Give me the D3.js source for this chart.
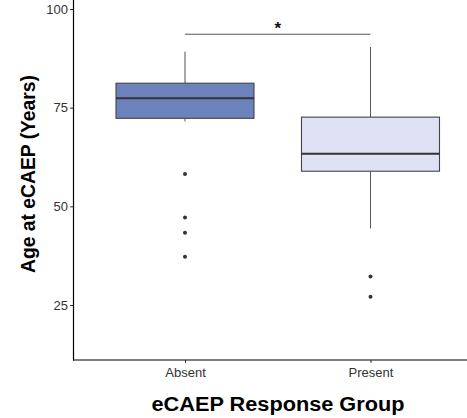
<!DOCTYPE html>
<html><head><meta charset="utf-8">
<script src="https://cdn.jsdelivr.net/npm/d3@7"></script>
<style>body{margin:0;background:#fff;}svg{display:block;}</style>
</head><body>
<svg id="c" width="467" height="418"></svg>
<script>
const groups = ["Absent", "Present"];
const q1 = [72.3, 58.9];
const medians = [77.4, 63.3];
const q3 = [81.2, 72.6];
const whiskerLow = [71.5, 44.4];
const whiskerHigh = [89.2, 90.4];
const outliersAbsent = [58.2, 47.2, 43.3, 37.2];
const outliersPresent = [32.2, 27.1];
const fills = ["#6b82bd", "#dfe2f5"];
const yTicks = [25, 50, 75, 100];
const sigLevel = 93.6;
const sigLabel = "*";

const svg = d3.select("#c");
const xc = d3.scalePoint().domain(groups).range([185, 370.5]);
const bw = 138;
const y = d3.scaleLinear().domain([25, 100]).range([305, 9]);

const outliers = [outliersAbsent, outliersPresent];

const yAxis = d3.axisLeft(y).tickValues(yTicks).tickSize(3.5).tickPadding(2);
const gy = svg.append("g").attr("transform", "translate(73.5,0)").call(yAxis);
gy.select(".domain").remove();
gy.selectAll(".tick line").attr("stroke", "#333");
gy.selectAll(".tick text").attr("fill", "#333").style("font-family", "Liberation Sans, Arial, sans-serif").style("font-size", "13px");

const xAxis = d3.axisBottom(xc).tickSize(3).tickPadding(5);
const gx = svg.append("g").attr("transform", "translate(0,360)").call(xAxis);
gx.select(".domain").remove();
gx.selectAll(".tick line").attr("stroke", "#333");
gx.selectAll(".tick text").attr("fill", "#333").style("font-family", "Liberation Sans, Arial, sans-serif").style("font-size", "13px");

svg.append("line").attr("x1", 73.5).attr("x2", 73.5).attr("y1", -5).attr("y2", 360.5).attr("stroke", "#000").attr("stroke-width", 1.2);
svg.append("line").attr("x1", 73).attr("x2", 480).attr("y1", 360).attr("y2", 360).attr("stroke", "#000").attr("stroke-width", 1.2);

groups.forEach((g, i) => {
  const cx = xc(g);
  svg.append("line").attr("x1", cx).attr("x2", cx).attr("y1", y(q3[i])).attr("y2", y(whiskerHigh[i])).attr("stroke", "#555").attr("stroke-width", 1);
  svg.append("line").attr("x1", cx).attr("x2", cx).attr("y1", y(q1[i])).attr("y2", y(whiskerLow[i])).attr("stroke", "#555").attr("stroke-width", 1);
  svg.append("rect").attr("x", cx - bw / 2).attr("y", y(q3[i])).attr("width", bw).attr("height", y(q1[i]) - y(q3[i]))
    .attr("fill", fills[i]).attr("stroke", "#444").attr("stroke-width", 1.1);
  svg.append("line").attr("x1", cx - bw / 2).attr("x2", cx + bw / 2).attr("y1", y(medians[i])).attr("y2", y(medians[i])).attr("stroke", "#333").attr("stroke-width", 2);
  svg.selectAll(null).data(outliers[i]).enter().append("circle")
    .attr("cx", cx).attr("cy", d => y(d)).attr("r", 2).attr("fill", "#333");
});

svg.append("line").attr("x1", xc("Absent")).attr("x2", xc("Present")).attr("y1", y(sigLevel)).attr("y2", y(sigLevel)).attr("stroke", "#555").attr("stroke-width", 1);
svg.append("text").attr("x", (xc("Absent") + xc("Present")) / 2).attr("y", y(sigLevel) - 0.5).attr("text-anchor", "middle")
  .style("font-family", "Liberation Sans, Arial, sans-serif").style("font-size", "17px").style("font-weight", "bold").attr("fill", "#111").text(sigLabel);

svg.append("text").attr("x", 278).attr("y", 411).attr("text-anchor", "middle")
  .attr("textLength", 253).attr("lengthAdjust", "spacingAndGlyphs")
  .style("font-family", "Liberation Sans, Arial, sans-serif").style("font-size", "20px").style("font-weight", "bold").attr("fill", "#000")
  .text("eCAEP Response Group");
svg.append("text").attr("transform", "translate(35,174) rotate(-90)").attr("text-anchor", "middle")
  .attr("textLength", 198).attr("lengthAdjust", "spacingAndGlyphs")
  .style("font-family", "Liberation Sans, Arial, sans-serif").style("font-size", "21px").style("font-weight", "bold").attr("fill", "#000")
  .text("Age at eCAEP (Years)");
</script>
</body></html>
